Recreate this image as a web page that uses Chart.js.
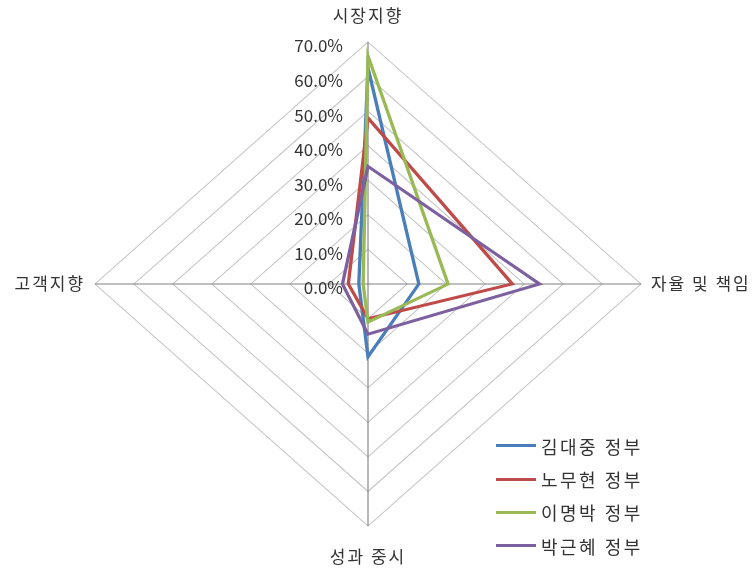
<!DOCTYPE html>
<html><head><meta charset="utf-8">
<script src="https://cdn.jsdelivr.net/npm/chart.js@4/dist/chart.umd.min.js"></script>
<style>
html,body{margin:0;padding:0;background:#fff;}
#wrap{position:relative;width:753px;height:571px;}
#legend{position:absolute;left:496px;top:429px;font-family:"Noto Sans CJK KR";font-size:18px;letter-spacing:2.5px;color:#333;}
.item{display:flex;align-items:center;height:33.4px;white-space:nowrap;}
.sw{width:40px;height:3px;margin-right:5px;}
</style></head><body>
<div id="wrap"><canvas id="c" width="753" height="571"></canvas><div id="legend"></div></div>
<script>
const axisLabels = ['시장지향', '자율 및 책임', '성과 중시', '고객지향'];
const seriesNames = ['김대중 정부', '노무현 정부', '이명박 정부', '박근혜 정부'];
const kimDaejung  = [0.625, 0.13, 0.21, 0.023];
const rohMoohyun  = [0.48, 0.37, 0.10, 0.05];
const leeMyungbak = [0.66, 0.205, 0.11, 0.012];
const parkGeunhye = [0.34, 0.44, 0.145, 0.065];
const scaleMax = 0.7;
const scaleStep = 0.1;

const seriesValues = [kimDaejung, rohMoohyun, leeMyungbak, parkGeunhye];
const seriesColors = ['#4A7EBB', '#BE4B48', '#98B954', '#7D60A0'];

// target geometry of the (stretched) plot, matching the reference
const CX = 368, CY = 284, RX = 273, RY = 242;
const TICK_DX = -25, TICK_DY = 4;

const stretchPlugin = {
  id: 'stretch',
  beforeDraw(chart) {
    const s = chart.scales.r;
    const ctx = chart.ctx;
    const sx = RX / s.drawingArea, sy = RY / s.drawingArea;
    ctx.save();
    ctx.translate(CX, CY);
    ctx.scale(sx, sy);
    ctx.translate(-s.xCenter, -s.yCenter);
    const orig = CanvasRenderingContext2D.prototype.fillText;
    ctx.fillText = function (text, x, y, maxWidth) {
      const m = this.getTransform();
      let px = m.a * x + m.c * y + m.e;
      let py = m.b * x + m.d * y + m.f;
      this.save();
      this.setTransform(1, 0, 0, 1, 0, 0);
      if (typeof text === 'string' && text.endsWith('%')) {
        this.textAlign = 'right';
        px += TICK_DX; py += TICK_DY;
      } else {
        this.letterSpacing = '2px';
        if (this.textAlign === 'left') px -= 13;
        else if (this.textAlign === 'right') px += 13;
        else if (py < CY) py += 4;
      }
      if (maxWidth === undefined) orig.call(this, text, px, py);
      else orig.call(this, text, px, py, maxWidth);
      this.restore();
    };
  },
  afterDraw(chart) {
    const ctx = chart.ctx;
    delete ctx.fillText;
    ctx.restore();
  }
};

new Chart(document.getElementById('c'), {
  type: 'radar',
  data: {
    labels: axisLabels,
    datasets: seriesNames.map((n, i) => ({
      label: n,
      data: seriesValues[i],
      borderColor: seriesColors[i],
      backgroundColor: 'rgba(0,0,0,0)',
      borderWidth: 3,
      pointRadius: 0,
      fill: false,
      tension: 0,
      clip: false,
      order: seriesNames.length - i
    }))
  },
  plugins: [stretchPlugin],
  options: {
    responsive: false,
    animation: false,
    events: [],
    plugins: { legend: { display: false }, tooltip: { enabled: false } },
    scales: {
      r: {
        min: -0.0005,
        max: scaleMax,
        ticks: {
          stepSize: scaleStep,
          showLabelBackdrop: false,
          color: '#333',
          font: { family: '"Noto Sans CJK KR"', size: 17 },
          callback: v => (Math.max(0, v) * 100).toFixed(1) + '%'
        },
        grid: { color: '#C4C4C4', lineWidth: 1 },
        angleLines: { color: '#808080', lineWidth: 1 },
        pointLabels: {
          color: '#333',
          padding: 10,
          font: { family: '"Noto Sans CJK KR"', size: 17 }
        }
      }
    }
  }
});

const lg = document.getElementById('legend');
seriesNames.forEach((n, i) => {
  const d = document.createElement('div');
  d.className = 'item';
  d.innerHTML = '<span class="sw" style="background:' + seriesColors[i] + '"></span><span>' + n + '</span>';
  lg.appendChild(d);
});
</script>
</body></html>
